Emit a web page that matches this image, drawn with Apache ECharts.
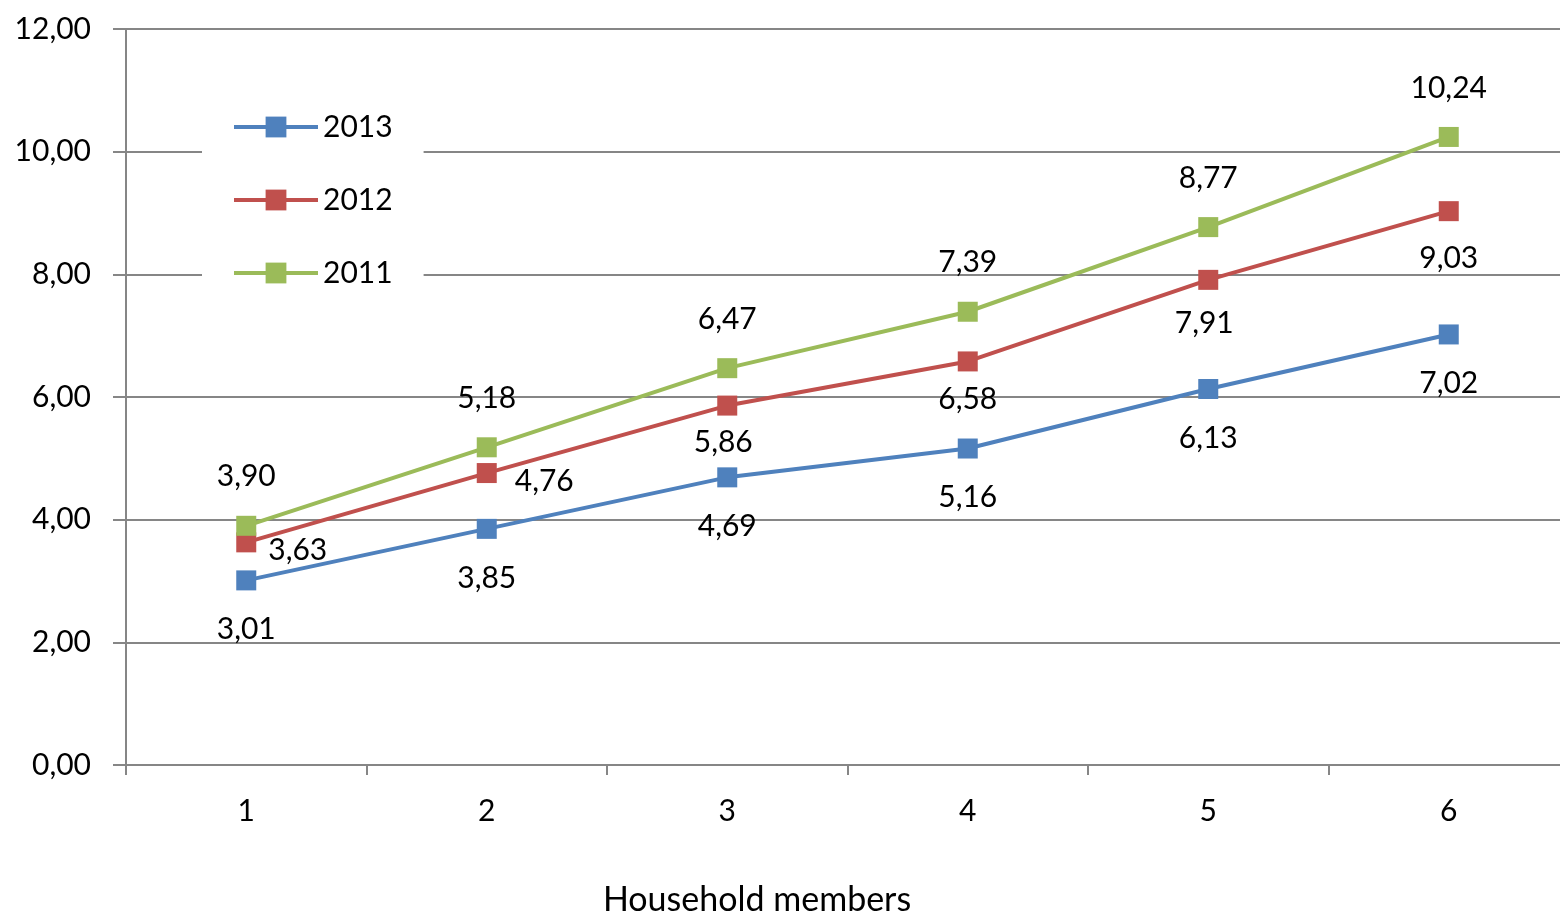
<!DOCTYPE html>
<html><head><meta charset="utf-8">
<script src="https://cdn.jsdelivr.net/npm/echarts@6/dist/echarts.min.js"></script>
<style>html,body{margin:0;padding:0;background:#fff;overflow:hidden}#c{width:1569px;height:915px}</style>
</head><body><div id="c"></div>
<script>
const categories = ['1','2','3','4','5','6'];
const seriesNames = ['2013','2012','2011'];
const values2013 = [3.01, 3.85, 4.69, 5.16, 6.13, 7.02];
const values2012 = [3.63, 4.76, 5.86, 6.58, 7.91, 9.03];
const values2011 = [3.90, 5.18, 6.47, 7.39, 8.77, 10.24];
const yTicks = [0, 2, 4, 6, 8, 10, 12];
const xAxisTitle = 'Household members';

const FONT = 'Lato';
const fmt = v => Number(v).toFixed(2).replace('.', ',');
const colors = ['#4F81BD', '#C0504D', '#9BBB59'];

// label placement for 2012 series (style only)
const redLabelStyle = [
  {position: 'right', distance: 12, offset: [0, 8]},
  {position: 'right', distance: 18, offset: [0, 8]},
  {position: 'bottom', distance: 12, offset: [-4, 0]},
  {position: 'bottom', distance: 13, offset: [0, 0]},
  {position: 'bottom', distance: 18, offset: [-4, 0]},
  {position: 'bottom', distance: 22, offset: [0, 0]}
];

const labelBase = {show: true, fontFamily: FONT, fontSize: 30, color: '#000', formatter: p => fmt(p.value)};

function mkSeries(name, vals, color, labelCfg, perPoint) {
  return {
    name, type: 'line', data: vals.map((v, i) => perPoint ? {value: v, label: perPoint[i]} : v),
    symbol: 'rect', symbolSize: 20, color,
    lineStyle: {width: 4, color}, itemStyle: {color},
    label: Object.assign({}, labelBase, labelCfg),
    emphasis: {disabled: true}, animation: false
  };
}

const chart = echarts.init(document.getElementById('c'), null, {renderer: 'canvas'});
chart.setOption({
  animation: false,
  grid: {left: 126, top: 29, bottom: 150, right: 0},
  legend: {
    data: seriesNames, orient: 'vertical', left: 202, top: 97,
    padding: [15, 31, 15, 30], backgroundColor: '#fff',
    itemWidth: 84, itemHeight: 26, itemGap: 43,
    lineStyle: {width: 4},
    textStyle: {fontFamily: FONT, fontSize: 30, color: '#000'}
  },
  xAxis: {
    type: 'category', data: categories, boundaryGap: true,
    axisLine: {lineStyle: {color: '#868686', width: 2}},
    axisTick: {show: true, length: 10, lineStyle: {color: '#868686', width: 2}},
    axisLabel: {fontFamily: FONT, fontSize: 30, color: '#000', margin: 31}
  },
  yAxis: {
    type: 'value', min: yTicks[0], max: yTicks[yTicks.length - 1], interval: 2,
    axisLine: {show: true, lineStyle: {color: '#868686', width: 2}},
    axisTick: {show: true, length: 13, lineStyle: {color: '#868686', width: 2}},
    splitLine: {lineStyle: {color: '#868686', width: 2}},
    axisLabel: {fontFamily: FONT, fontSize: 30, color: '#000', margin: 35, formatter: v => fmt(v)}
  },
  graphic: [{
    type: 'text', x: 757, y: 900,
    style: {text: xAxisTitle, font: '34px ' + FONT, fill: '#000', align: 'center', verticalAlign: 'middle'}
  }],
  series: [
    mkSeries('2013', values2013, colors[0], {position: 'bottom', distance: 24}),
    mkSeries('2012', values2012, colors[1], {position: 'bottom', distance: 12}, redLabelStyle),
    mkSeries('2011', values2011, colors[2], {position: 'top', distance: 24})
  ]
});
</script></body></html>
